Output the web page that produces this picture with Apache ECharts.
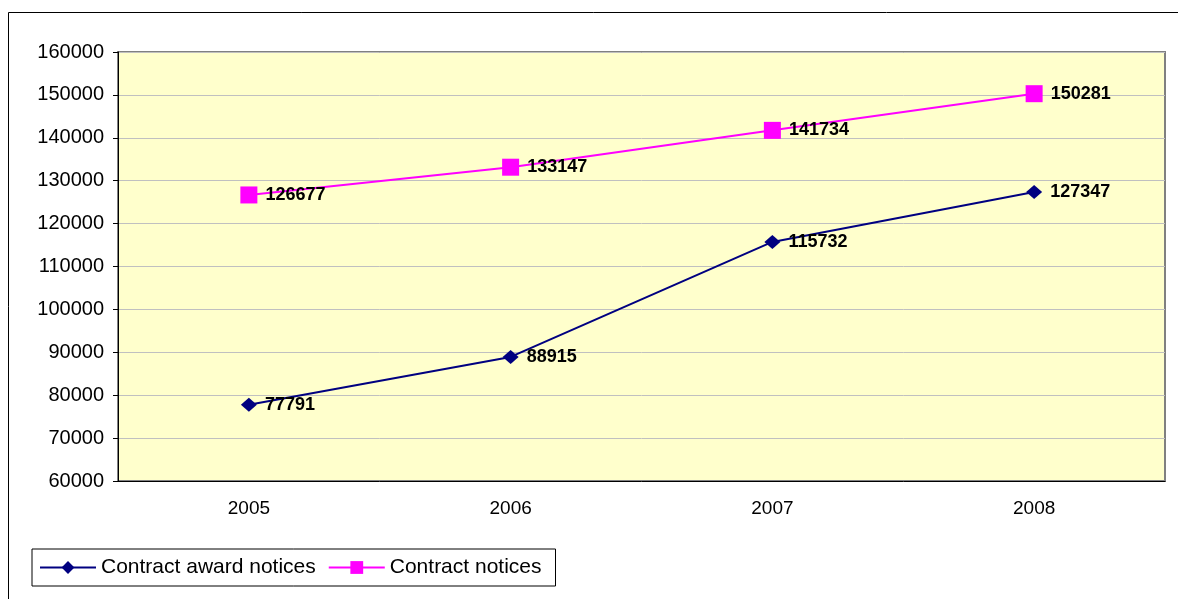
<!DOCTYPE html>
<html>
<head>
<meta charset="utf-8">
<script src="https://cdn.jsdelivr.net/npm/echarts@6/dist/echarts.min.js"></script>
<style>
  html, body { margin: 0; padding: 0; background: #fff; }
  #chart { width: 1178px; height: 599px; }
</style>
</head>
<body>
<div id="chart"></div>
<script>
// data
const years = ["2005", "2006", "2007", "2008"];
const awardNotices = [77791, 88915, 115732, 127347];
const contractNotices = [126677, 133147, 141734, 150281];
const yMin = 60000, yMax = 160000, yStep = 10000;

let myChart = echarts.init(document.getElementById("chart"));
let font = "Arial, 'Liberation Sans'";
let labelStyle = {
  show: true,
  position: "right",
  distance: 8,
  color: "#000",
  fontFamily: font,
  fontWeight: "bold",
  fontSize: 18
};
let option = {
  animation: false,
  textStyle: { fontFamily: font },
  graphic: [
    {
      type: "rect",
      x: 0, y: 0,
      shape: { x: 8.5, y: 12.5, width: 1200, height: 620 },
      style: { fill: "none", stroke: "#000", lineWidth: 1 },
      silent: true
    }
  ],
  grid: {
    left: 118, right: 13, top: 52, bottom: 118,
    show: true,
    backgroundColor: "#FFFFCC",
    borderColor: "#808080",
    borderWidth: 2
  },
  legend: {
    left: 32, top: 549,
    padding: [8, 14, 8, 7],
    borderColor: "#000",
    borderWidth: 1,
    itemWidth: 56,
    itemHeight: 16,
    itemGap: 12,
    textStyle: { fontSize: 21, color: "#000", fontFamily: font },
    data: ["Contract award notices", "Contract notices"]
  },
  xAxis: {
    type: "category",
    data: years,
    axisLine: { lineStyle: { color: "#000" } },
    axisTick: { length: 6, lineStyle: { color: "#000" } },
    axisLabel: { color: "#000", fontSize: 19, margin: 18 }
  },
  yAxis: {
    type: "value",
    min: yMin, max: yMax, interval: yStep,
    axisLine: { show: true, lineStyle: { color: "#000" } },
    axisTick: { show: true, length: 5, lineStyle: { color: "#000" } },
    axisLabel: { color: "#000", fontSize: 20, margin: 14, formatter: (v) => String(v) },
    splitLine: { lineStyle: { color: "#C0C0C0" } }
  },
  series: [
    {
      name: "Contract award notices",
      type: "line",
      data: awardNotices,
      symbol: "diamond",
      symbolSize: [16, 14],
      color: "#000080",
      lineStyle: { width: 2, color: "#000080" },
      label: labelStyle
    },
    {
      name: "Contract notices",
      type: "line",
      data: contractNotices,
      symbol: "rect",
      symbolSize: 17,
      color: "#FF00FF",
      lineStyle: { width: 2, color: "#FF00FF" },
      label: labelStyle
    }
  ]
};
myChart.setOption(option, true);
window.addEventListener("resize", () => {
  myChart.resize();
});
</script>
</body>
</html>
